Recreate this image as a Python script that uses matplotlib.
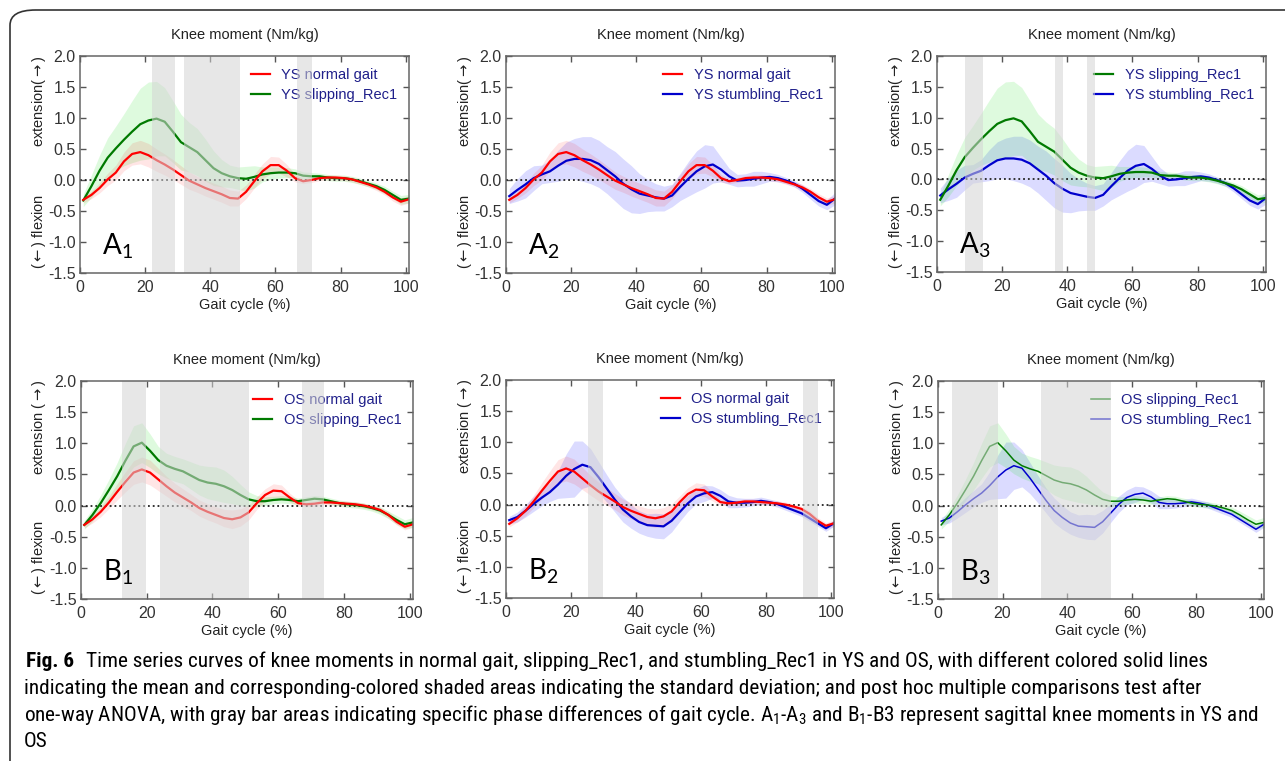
import numpy as np
import matplotlib
matplotlib.use('Agg')
import matplotlib.pyplot as plt
from matplotlib import font_manager
from matplotlib.patches import FancyBboxPatch

plt.rcParams['font.family'] = ['Liberation Sans', 'DejaVu Sans']
plt.rcParams['axes.unicode_minus'] = False

W, H = 1285, 761

# gait cycle samples (%)
gait = [1, 3.5, 6, 8.5, 11, 13.5, 16, 18.5, 21, 23.5, 26, 28.5, 31, 33.5, 36, 38.5,
        41, 43.5, 46, 48.5, 51, 53.5, 56, 58.5, 61, 63.5, 66, 68.5, 71, 73.5, 76, 78.5,
        81, 83.5, 86, 88.5, 91, 93.5, 96, 98.5, 101]

# young subjects (YS), mean and SD of knee moment (Nm/kg)
ys_normal = [-0.32, -0.24, -0.13, 0.01, 0.12, 0.30, 0.42, 0.45, 0.40, 0.32, 0.25, 0.17, 0.08, -0.01,
             -0.07, -0.13, -0.18, -0.23, -0.29, -0.30, -0.19, -0.02, 0.14, 0.24, 0.24, 0.15, 0.03,
             -0.02, 0.00, 0.03, 0.04, 0.04, 0.03, 0.01, -0.03, -0.07, -0.12, -0.19, -0.28, -0.35, -0.31]
ys_normal_sd = [0.05, 0.06, 0.08, 0.10, 0.12, 0.15, 0.18, 0.19, 0.19, 0.18, 0.17, 0.16, 0.15, 0.14,
                0.13, 0.13, 0.13, 0.13, 0.13, 0.12, 0.11, 0.11, 0.12, 0.14, 0.13, 0.10, 0.06,
                0.04, 0.04, 0.04, 0.04, 0.04, 0.04, 0.04, 0.04, 0.04, 0.05, 0.05, 0.06, 0.06, 0.06]

ys_slip = [-0.33, -0.10, 0.15, 0.36, 0.51, 0.65, 0.78, 0.90, 0.96, 0.99, 0.94, 0.78, 0.61, 0.53,
           0.45, 0.32, 0.19, 0.11, 0.06, 0.03, 0.02, 0.05, 0.09, 0.11, 0.12, 0.12, 0.11,
           0.07, 0.06, 0.06, 0.04, 0.03, 0.03, 0.01, -0.02, -0.06, -0.10, -0.16, -0.24, -0.32, -0.30]
ys_slip_sd = [0.10, 0.18, 0.25, 0.32, 0.36, 0.42, 0.50, 0.58, 0.62, 0.60, 0.55, 0.50, 0.45, 0.40,
              0.38, 0.34, 0.28, 0.22, 0.18, 0.18, 0.20, 0.18, 0.12, 0.10, 0.09, 0.08, 0.07,
              0.06, 0.06, 0.05, 0.05, 0.05, 0.05, 0.05, 0.05, 0.05, 0.05, 0.06, 0.06, 0.07, 0.07]

ys_stumb = [-0.26, -0.16, -0.07, 0.03, 0.09, 0.14, 0.23, 0.31, 0.34, 0.34, 0.32, 0.26, 0.16, 0.06,
            -0.06, -0.15, -0.22, -0.25, -0.28, -0.30, -0.25, -0.11, 0.02, 0.14, 0.22, 0.25, 0.17,
            0.06, -0.01, 0.00, 0.02, 0.04, 0.05, 0.03, -0.01, -0.06, -0.14, -0.24, -0.34, -0.40, -0.30]
ys_stumb_sd = [0.12, 0.18, 0.22, 0.20, 0.15, 0.18, 0.25, 0.30, 0.33, 0.36, 0.38, 0.38, 0.38, 0.40,
               0.40, 0.38, 0.32, 0.26, 0.22, 0.20, 0.18, 0.22, 0.28, 0.33, 0.35, 0.30, 0.20,
               0.13, 0.10, 0.10, 0.12, 0.10, 0.07, 0.06, 0.05, 0.05, 0.06, 0.07, 0.08, 0.08, 0.10]

# older subjects (OS)
os_normal = [-0.31, -0.22, -0.10, 0.05, 0.22, 0.38, 0.53, 0.58, 0.53, 0.42, 0.31, 0.21, 0.13, 0.05,
             -0.04, -0.10, -0.15, -0.20, -0.22, -0.19, -0.11, 0.04, 0.17, 0.24, 0.23, 0.13, 0.04,
             0.02, 0.03, 0.05, 0.05, 0.04, 0.03, 0.02, 0.00, -0.03, -0.07, -0.15, -0.26, -0.34, -0.30]
os_normal_sd = [0.05, 0.06, 0.08, 0.10, 0.13, 0.16, 0.19, 0.20, 0.20, 0.18, 0.16, 0.15, 0.14, 0.13,
                0.13, 0.13, 0.13, 0.14, 0.15, 0.14, 0.12, 0.10, 0.10, 0.11, 0.10, 0.07, 0.05,
                0.04, 0.04, 0.04, 0.04, 0.04, 0.04, 0.04, 0.04, 0.04, 0.04, 0.05, 0.05, 0.05, 0.05]

os_slip = [-0.31, -0.15, 0.04, 0.25, 0.47, 0.72, 0.95, 1.01, 0.88, 0.73, 0.64, 0.59, 0.55, 0.48,
           0.41, 0.37, 0.35, 0.31, 0.25, 0.17, 0.10, 0.07, 0.07, 0.09, 0.10, 0.09, 0.07,
           0.09, 0.11, 0.10, 0.07, 0.04, 0.02, 0.01, -0.01, -0.04, -0.08, -0.15, -0.23, -0.30, -0.27]
os_slip_sd = [0.07, 0.10, 0.13, 0.17, 0.22, 0.28, 0.33, 0.32, 0.27, 0.22, 0.20, 0.20, 0.20, 0.22,
              0.24, 0.26, 0.27, 0.26, 0.22, 0.17, 0.12, 0.09, 0.07, 0.06, 0.06, 0.06, 0.05,
              0.05, 0.05, 0.05, 0.05, 0.05, 0.05, 0.05, 0.05, 0.05, 0.06, 0.06, 0.07, 0.07, 0.08]

os_stumb = [-0.25, -0.20, -0.10, 0.01, 0.11, 0.20, 0.32, 0.46, 0.57, 0.64, 0.60, 0.44, 0.26, 0.08,
            -0.08, -0.19, -0.28, -0.33, -0.34, -0.35, -0.26, -0.12, 0.02, 0.13, 0.18, 0.20, 0.14,
            0.05, 0.03, 0.03, 0.04, 0.06, 0.04, 0.01, -0.04, -0.09, -0.14, -0.22, -0.30, -0.38, -0.30]
os_stumb_sd = [0.06, 0.08, 0.10, 0.12, 0.13, 0.15, 0.22, 0.35, 0.45, 0.38, 0.30, 0.25, 0.22, 0.20,
               0.20, 0.19, 0.18, 0.18, 0.20, 0.20, 0.18, 0.15, 0.13, 0.12, 0.13, 0.10, 0.10,
               0.10, 0.08, 0.07, 0.06, 0.06, 0.05, 0.05, 0.05, 0.05, 0.05, 0.05, 0.05, 0.05, 0.05]

# gray bars: phases with significant differences (% gait cycle)
bars_a1 = [(22.1, 29.2), (31.9, 49.0), (66.6, 71.3)]
bars_a2 = []
bars_a3 = [(8.6, 14.2), (36.1, 38.8), (46.1, 48.6)]
bars_b1 = [(12.6, 19.9), (23.9, 51.2), (67.1, 73.8)]
bars_b2 = [(25.1, 29.8), (91.5, 96.2)]
bars_b3 = [(4.3, 18.5), (31.8, 53.5)]

series = {
    'ys_normal': (ys_normal, ys_normal_sd, 'YS normal gait', 'normal'),
    'ys_slip': (ys_slip, ys_slip_sd, 'YS slipping_Rec1', 'slip'),
    'ys_stumb': (ys_stumb, ys_stumb_sd, 'YS stumbling_Rec1', 'stumb'),
    'os_normal': (os_normal, os_normal_sd, 'OS normal gait', 'normal'),
    'os_slip': (os_slip, os_slip_sd, 'OS slipping_Rec1', 'slip'),
    'os_stumb': (os_stumb, os_stumb_sd, 'OS stumbling_Rec1', 'stumb'),
}
styles = {
    'normal': dict(line='#ff0000', band='#ff0000', alpha=0.10),
    'slip': dict(line='#007a00', band='#00e000', alpha=0.13),
    'stumb': dict(line='#0000cc', band='#0000ff', alpha=0.14),
}

ext_a = r'extension($\rightarrow$)'
ext_b = r'extension ($\rightarrow$)'
panels = [
    ((80, 56, 409, 273), ['ys_normal', 'ys_slip'], bars_a1, 'A', '1', ext_a, 1.6),
    ((506, 56, 835, 273), ['ys_normal', 'ys_stumb'], bars_a2, 'A', '2', ext_a, 1.6),
    ((937, 56, 1266, 272), ['ys_slip', 'ys_stumb'], bars_a3, 'A', '3', ext_a, 1.6),
    ((81, 381, 413, 599), ['os_normal', 'os_slip'], bars_b1, 'B', '1', ext_b, 1.6),
    ((506, 380, 834, 598), ['os_normal', 'os_stumb'], bars_b2, 'B', '2', ext_b, 1.6),
    ((938, 381, 1264, 599), ['os_slip', 'os_stumb'], bars_b3, 'B', '3', ext_b, 1.1),
]

fig = plt.figure(figsize=(W / 100, H / 100), dpi=100)

# figure frame with rounded corner
frame = FancyBboxPatch((10 / W, -0.1), 1.2, (H - 10) / H + 0.1,
                       boxstyle='round,pad=0,rounding_size=0.02',
                       transform=fig.transFigure, fill=False, edgecolor='#333333', linewidth=1.2)
fig.add_artist(frame)

x = np.array(gait)
for (l, t, r, b), keys, bars, letter, sub, ext_label, lw in panels:
    ax = fig.add_axes([l / W, 1 - b / H, (r - l) / W, (b - t) / H])
    for k in keys[::-1]:
        m, sd, _, kind = series[k]
        m, sd = np.array(m), np.array(sd)
        ax.fill_between(x, m - sd, m + sd, color=styles[kind]['band'],
                        alpha=styles[kind]['alpha'], linewidth=0)
    ax.axhline(0, color='#222222', linestyle=':', linewidth=1.3, zorder=2)
    for k in keys[::-1]:
        m, sd, lab, kind = series[k]
        ax.plot(x, m, color=styles[kind]['line'], linewidth=lw, label=lab, zorder=3)
    for x0, x1 in bars:
        ax.axvspan(x0, x1, color='#d4d4d4', alpha=0.55, linewidth=0, zorder=10)

    ax.set_xlim(0, 101)
    ax.set_ylim(-1.5, 2.0)
    ax.set_xticks([0, 20, 40, 60, 80, 100])
    ax.set_yticks([-1.5, -1.0, -0.5, 0.0, 0.5, 1.0, 1.5, 2.0])
    ax.set_yticklabels(['%.1f' % v for v in [-1.5, -1.0, -0.5, 0.0, 0.5, 1.0, 1.5, 2.0]])
    ax.tick_params(direction='in', top=True, right=True, length=4, width=1,
                   color='#555555', labelcolor='#333333', labelsize=11.5)
    ax.tick_params(axis='x', pad=5)
    ax.tick_params(axis='y', pad=3)
    for sp in ax.spines.values():
        sp.set_color('#666666')
        sp.set_linewidth(1.1)
        sp.set_zorder(11)

    ax.set_title('Knee moment (Nm/kg)', fontsize=10.5, pad=12, color='#222222')
    ax.set_xlabel('Gait cycle (%)', fontsize=10.5, labelpad=2, color='#222222')
    ax.text(-0.125, 0.79, ext_label, rotation=90, transform=ax.transAxes,
            ha='center', va='center', fontsize=10.5, color='#222222')
    ax.text(-0.125, 0.19, r'($\leftarrow$) flexion', rotation=90, transform=ax.transAxes,
            ha='center', va='center', fontsize=10.5, color='#222222')
    ax.text(6.7, -1.2, letter + r'$_\mathregular{' + sub + '}$', fontsize=20,
            family=['Lato', 'DejaVu Sans'], va='baseline', ha='left', color='black', zorder=12)

    h, lab = ax.get_legend_handles_labels()
    ax.legend(h[::-1], lab[::-1], loc='upper right', frameon=False, fontsize=10.5,
              handlelength=1.3, handletextpad=0.8, labelspacing=0.45, borderaxespad=0.4,
              labelcolor='#1f1f8a')

# caption, in a condensed face if one is installed
names = {f.name for f in font_manager.fontManager.ttflist}
cap_family, cap_stretch = 'Liberation Sans', 'normal'
for fam in ['Liberation Sans Narrow', 'Roboto Condensed', 'Open Sans Condensed', 'DejaVu Sans Condensed']:
    if fam in names:
        cap_family = fam
        break
else:
    cond = [f for f in font_manager.fontManager.ttflist
            if str(f.stretch) in ('condensed', 'semi-condensed') and f.style == 'normal']
    if cond:
        cap_family, cap_stretch = cond[0].name, str(cond[0].stretch)

cap_kw = dict(family=[cap_family, 'DejaVu Sans'], fontstretch=cap_stretch, va='baseline')
cap_size = 13.5
cap_lines = [
    (86, 667, 'Time series curves of knee moments in normal gait, slipping_Rec1, and stumbling_Rec1 in YS and OS, with different colored solid lines'),
    (24, 694, 'indicating the mean and corresponding-colored shaded areas indicating the standard deviation; and post hoc multiple comparisons test after'),
    (24, 721, r'one-way ANOVA, with gray bar areas indicating specific phase differences of gait cycle. A$_\mathregular{1}$-A$_\mathregular{3}$ and B$_\mathregular{1}$-B3 represent sagittal knee moments in YS and'),
    (24, 747, 'OS'),
]
cap_texts = [fig.text(26 / W, 1 - 667 / H, 'Fig. 6', fontsize=cap_size, fontweight='bold', **cap_kw)]
for px, py, s in cap_lines:
    cap_texts.append(fig.text(px / W, 1 - py / H, s, fontsize=cap_size, **cap_kw))

# scale the caption so that the long lines end where they do in the source (x ~ 1262)
renderer = fig.canvas.get_renderer()
scale = min((1262 - 86) / cap_texts[1].get_window_extent(renderer).width,
            (1262 - 24) / cap_texts[3].get_window_extent(renderer).width)
for t in cap_texts:
    t.set_fontsize(t.get_fontsize() * scale)

fig.savefig('out.png', dpi=100)
